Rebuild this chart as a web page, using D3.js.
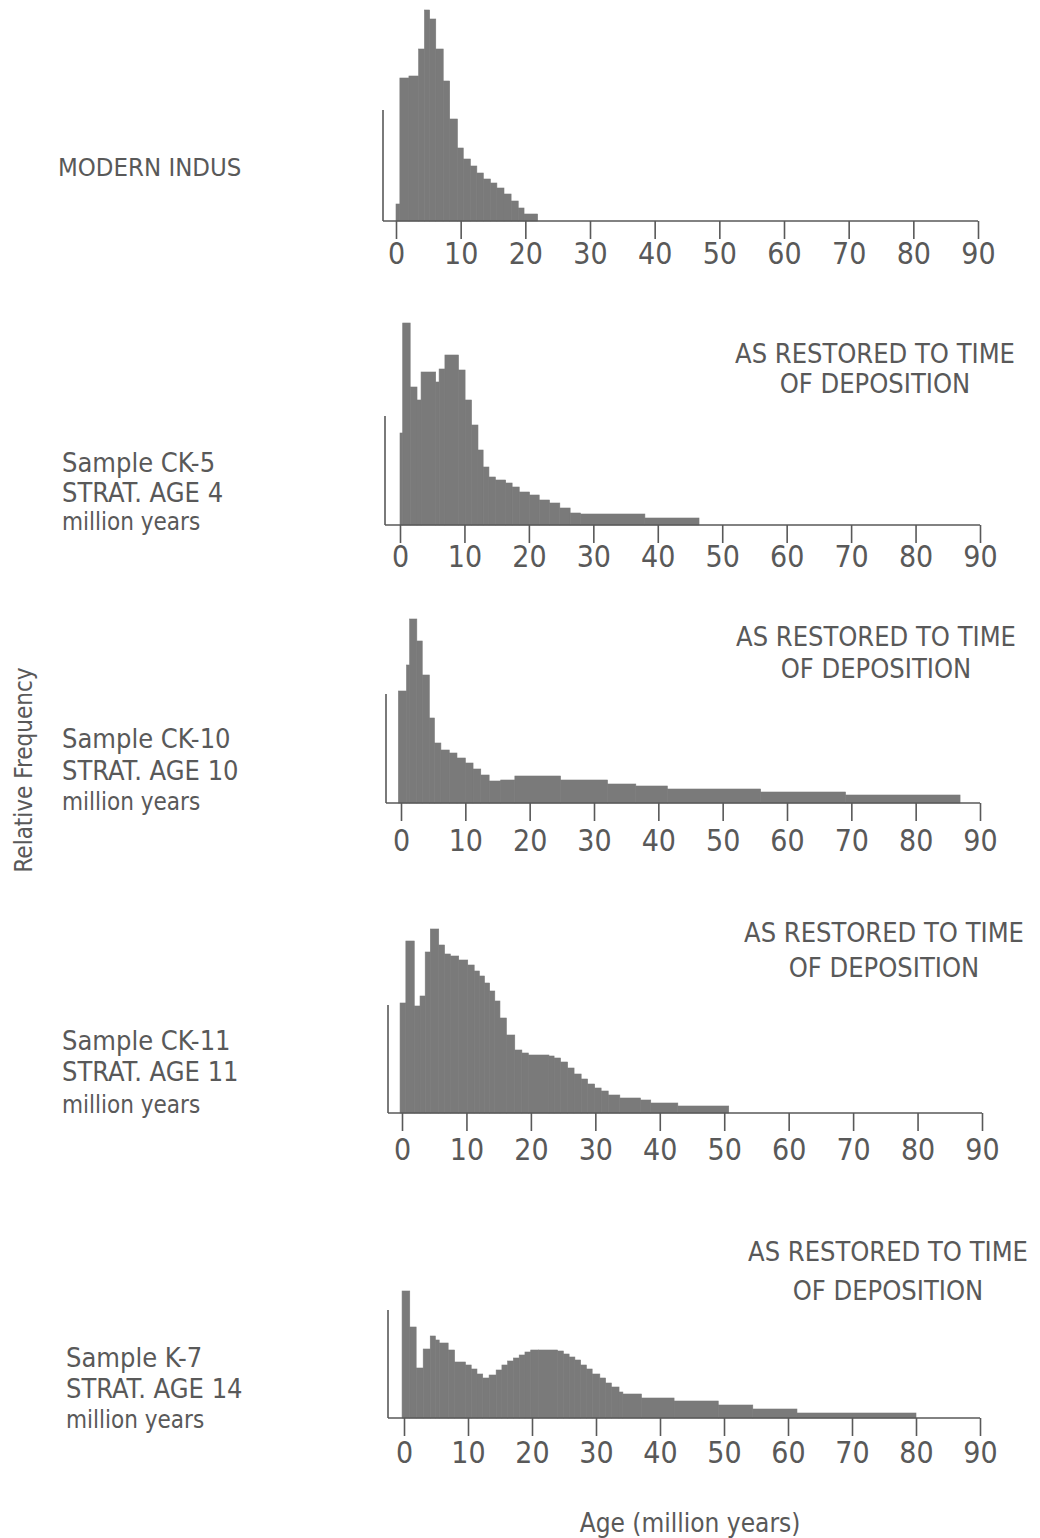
<!DOCTYPE html>
<html>
<head>
<meta charset="utf-8">
<script src="https://cdn.jsdelivr.net/npm/d3@7"></script>
<style>
  html, body { margin: 0; padding: 0; background: #fff; }
  svg text { font-family: "Liberation Sans Narrow", "DejaVu Sans Condensed", "Roboto Condensed", "Roboto", sans-serif; fill: #595959; }
</style>
</head>
<body>
<svg id="chart" width="1040" height="1538"></svg>
<script>
// ---- data ----
const xTicks = [0, 10, 20, 30, 40, 50, 60, 70, 80, 90];

const indusEdges = [0, 0.6, 2.0, 3.5, 4.4, 5.2, 6.15, 7.3, 8.3, 9.5, 10.4, 11.5, 12.5, 13.5, 14.6, 15.6, 16.7, 17.8, 18.9, 19.8, 21.9];
const indusFreq  = [17, 143, 145, 172, 211, 202, 172, 140, 102, 73, 62, 55, 48, 42, 38, 33, 27, 20, 13, 7];

const ck5Edges = [0, 0.42, 1.58, 2.64, 3.27, 5.54, 6.07, 6.97, 9.08, 10.1, 11.1, 12.1, 12.9, 13.8, 14.8, 16.4, 17.4, 18.5, 20.1, 21.6, 23.2, 24.8, 26.4, 28.0, 38.0, 46.4];
const ck5Freq  = [92, 202, 138, 125, 153, 143, 156, 170, 155, 125, 100, 75, 58, 48, 45, 42, 38, 33, 30, 25, 22, 17, 12, 11, 7];

const ck10Edges = [-0.4, 0.86, 1.35, 2.46, 3.3, 4.4, 5.2, 6.2, 7.5, 8.7, 10, 11.2, 12.4, 13.7, 15.5, 17.7, 24.8, 32.1, 36.5, 41.4, 55.9, 69.1, 86.9];
const ck10Freq  = [112, 138, 184, 162, 128, 85, 60, 53, 50, 45, 40, 34, 28, 22, 23, 27, 23, 19, 17, 14, 11, 8];

const ck11Edges = [-0.3, 0.6, 1.9, 2.8, 3.6, 4.4, 5.7, 6.6, 7.5, 8.8, 10.2, 11.2, 12.0, 12.8, 13.6, 14.4, 15.2, 16.2, 17.5, 18.6, 19.6, 22.8, 23.6, 24.6, 25.7, 26.7, 27.8, 28.8, 29.9, 30.9, 32.0, 33.8, 37.0, 38.6, 42.8, 50.7];
const ck11Freq  = [110, 172, 107, 117, 161, 184, 168, 159, 157, 153, 148, 142, 137, 130, 122, 112, 95, 78, 63, 60, 58, 57, 55, 51, 45, 39, 34, 29, 25, 22, 18, 15, 13, 10, 7];

const k7Edges = [-0.3, 0.9, 1.9, 3.0, 4.1, 4.9, 5.5, 6.9, 7.9, 9.6, 10.5, 11.4, 12.3, 13.3, 14.4, 15.3, 16.2, 17.1, 18.0, 18.9, 19.8, 21.0, 24.0, 24.9, 25.8, 26.7, 27.6, 28.5, 29.4, 30.6, 31.5, 32.4, 33.6, 34.2, 37.1, 42.2, 49.1, 54.5, 61.4, 80.0];
const k7Freq  = [127, 91, 50, 69, 82, 78, 75, 68, 56, 53, 49, 44, 40, 43, 48, 53, 57, 60, 63, 66, 68, 68, 67, 64, 61, 58, 53, 49, 44, 40, 35, 31, 26, 24, 20, 17, 13, 9, 5];

const sampleLines = [
  ["MODERN INDUS"],
  ["Sample CK-5", "STRAT. AGE 4", "million years"],
  ["Sample CK-10", "STRAT. AGE 10", "million years"],
  ["Sample CK-11", "STRAT. AGE 11", "million years"],
  ["Sample K-7", "STRAT. AGE 14", "million years"]
];
const restoredNote = ["AS RESTORED TO TIME", "OF DEPOSITION"];
const yTitle = "Relative Frequency";
const xTitle = "Age (million years)";

// ---- layout ----
const panels = [
  { edges: indusEdges, freq: indusFreq, x0: 396, x90: 978, base: 221, left: 383, top: 110, pad: 4,
    labX: 58, labY: [176], note: null },
  { edges: ck5Edges, freq: ck5Freq, x0: 400, x90: 980, base: 525, left: 385, top: 416, pad: 3,
    labX: 62, labY: [472, 502, 530], note: { x: 875, y: [363, 393] } },
  { edges: ck10Edges, freq: ck10Freq, x0: 401, x90: 980, base: 803, left: 386, top: 694, pad: 9,
    labX: 62, labY: [748, 780, 810], note: { x: 876, y: [646, 678] } },
  { edges: ck11Edges, freq: ck11Freq, x0: 402, x90: 982, base: 1113, left: 388, top: 1005, pad: 8,
    labX: 62, labY: [1050, 1081, 1113], note: { x: 884, y: [942, 977] } },
  { edges: k7Edges, freq: k7Freq, x0: 404, x90: 980, base: 1418, left: 388, top: 1310, pad: 6,
    labX: 66, labY: [1367, 1398, 1428], note: { x: 888, y: [1261, 1300] } }
];

const svg = d3.select("#chart");
const barColor = "#7a7a7a";
const inkColor = "#595959";

panels.forEach((p, i) => {
  const x = d3.scaleLinear().domain([0, 90]).range([p.x0, p.x90]);
  const y = d3.scaleLinear().domain([0, 100]).range([p.base, p.base - 100]);
  const g = svg.append("g");

  const bins = p.freq.map((f, j) => ({ a: p.edges[j], b: p.edges[j + 1], f }));
  g.selectAll("rect").data(bins).join("rect")
    .attr("x", d => x(d.a))
    .attr("width", d => x(d.b) - x(d.a))
    .attr("y", d => y(d.f))
    .attr("height", d => y(0) - y(d.f))
    .attr("fill", barColor)
    .attr("stroke", barColor)
    .attr("stroke-width", 0.6);

  // axes
  g.append("line").attr("x1", p.left).attr("x2", p.x90).attr("y1", p.base).attr("y2", p.base)
    .attr("stroke", inkColor).attr("stroke-width", 1.6);
  g.append("line").attr("x1", p.left).attr("x2", p.left).attr("y1", p.top).attr("y2", p.base)
    .attr("stroke", inkColor).attr("stroke-width", 1.6);

  const ax = g.append("g").attr("transform", `translate(0,${p.base})`)
    .call(d3.axisBottom(x).tickValues(xTicks).tickSize(18).tickPadding(p.pad).tickFormat(d3.format("d")));
  ax.select(".domain").remove();
  ax.selectAll(".tick line").attr("stroke", inkColor).attr("stroke-width", 1.6);
  ax.selectAll(".tick text").attr("fill", inkColor).style("font-size", "30px")
    .style("font-family", null);

  // sample labels
  sampleLines[i].forEach((t, k) => {
    const small = t === "million years";
    const size = i === 0 ? 25.5 : (small ? 24 : 27);
    svg.append("text").attr("x", p.labX).attr("y", p.labY[k])
      .style("font-size", size + "px").text(t);
  });
  if (p.note) {
    restoredNote.forEach((t, k) => {
      svg.append("text").attr("x", p.note.x).attr("y", p.note.y[k])
        .attr("text-anchor", "middle").style("font-size", "27px").text(t);
    });
  }
});

svg.append("text")
  .attr("transform", "translate(32,770) rotate(-90)")
  .attr("text-anchor", "middle").style("font-size", "24px").text(yTitle);
svg.append("text").attr("x", 690).attr("y", 1532)
  .attr("text-anchor", "middle").style("font-size", "26px").text(xTitle);
</script>
</body>
</html>
